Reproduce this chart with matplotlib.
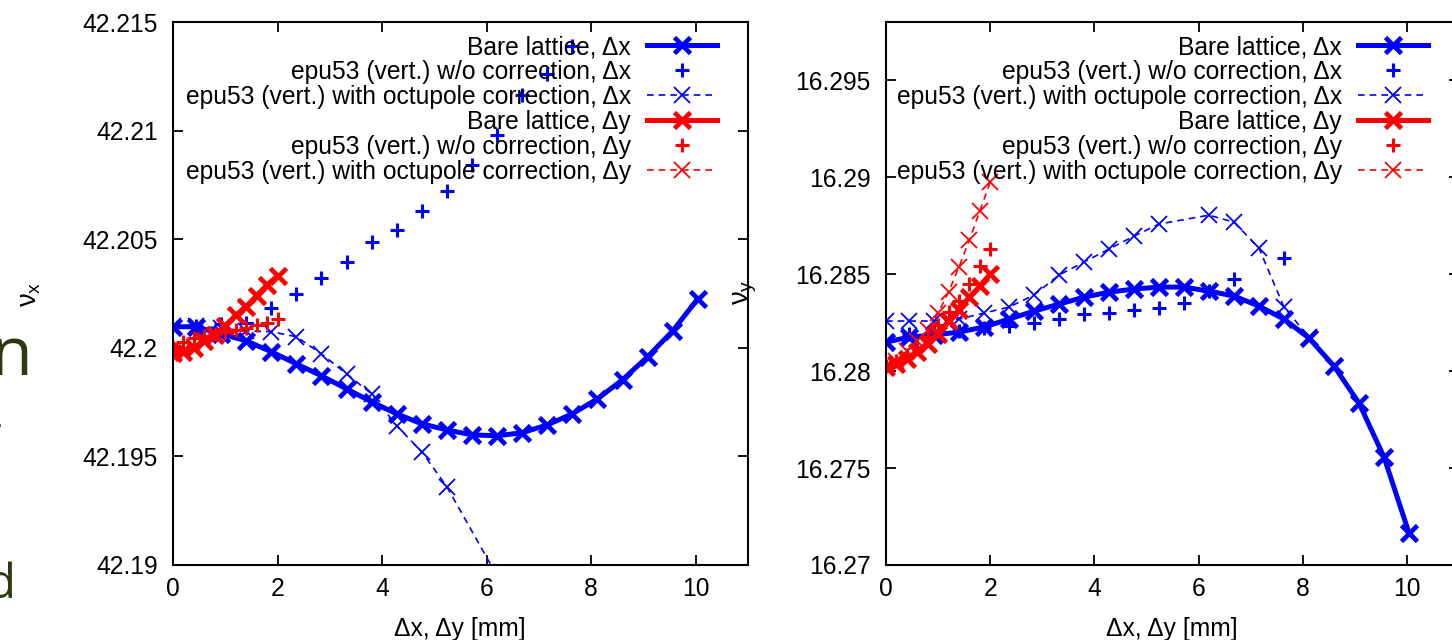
"""
Tune shift vs. amplitude: bare lattice vs. epu53 with/without octupole correction.
"""

import matplotlib
matplotlib.use('Agg')
import matplotlib.pyplot as plt
from matplotlib.ticker import FixedLocator, FormatStrFormatter

plt.rcParams['font.family'] = ['Liberation Sans', 'DejaVu Sans']
plt.rcParams['mathtext.fontset'] = 'custom'
plt.rcParams['mathtext.rm'] = 'Liberation Sans'
plt.rcParams['mathtext.it'] = 'Liberation Sans'

BLUE = '#0000ff'
RED = '#ff0000'
SLIDE = '#2b3a10'

# amplitudes [mm]
amp_x = [0.0, 0.44, 0.92, 1.40, 1.88, 2.36, 2.84, 3.32, 3.80, 4.28, 4.76,
         5.24, 5.72, 6.20, 6.68, 7.16, 7.64, 8.12, 8.60, 9.08, 9.56, 10.04]
amp_y = [0.0, 0.2, 0.4, 0.6, 0.8, 1.0, 1.2, 1.4, 1.6, 1.8, 2.0]

# ---- nu_x (left panel) ----
nux_bare_dx = [42.20097, 42.20097, 42.20064, 42.20032, 42.19982, 42.19926,
               42.19871, 42.19811, 42.19751, 42.19696, 42.19650, 42.19622,
               42.19599, 42.19595, 42.19609, 42.19645, 42.19696, 42.19765,
               42.19853, 42.19959, 42.20078, 42.20226]
nux_nocorr_dx_amp = [0.44, 0.92, 1.40, 1.88, 2.36, 2.84, 3.32, 3.80, 4.28,
                     4.76, 5.24, 5.72, 6.20, 6.68, 7.16, 7.64]
nux_nocorr_dx = [42.20100, 42.20108, 42.20115, 42.20184, 42.20249, 42.20322,
                 42.20396, 42.20488, 42.20543, 42.20631, 42.20723, 42.20843,
                 42.20981, 42.21165, 42.21262, 42.21390]
nux_oct_dx_amp = [0.0, 0.44, 0.92, 1.40, 1.88, 2.36, 2.84, 3.32, 3.80, 4.28,
                  4.76, 5.24, 6.20]
nux_oct_dx = [42.20100, 42.20100, 42.20090, 42.20078, 42.20074, 42.20051,
              42.19972, 42.19880, 42.19788, 42.19641, 42.19521, 42.19360,
              42.18950]
nux_bare_dy = [42.19975, 42.19980, 42.20000, 42.20030, 42.20060, 42.20100,
               42.20150, 42.20190, 42.20240, 42.20290, 42.20330]
nux_nocorr_dy = [42.20000, 42.20028, 42.20046, 42.20055, 42.20064, 42.20074,
                 42.20083, 42.20092, 42.20106, 42.20115, 42.20134]
nux_oct_dy = [42.19978, 42.19983, 42.20002, 42.20028, 42.20057, 42.20097,
              42.20146, 42.20187, 42.20236, 42.20286, 42.20327]

# ---- nu_y (right panel) ----
nuy_bare_dx = [16.28149, 16.28175, 16.28186, 16.28201, 16.28227, 16.28268,
               16.28309, 16.28345, 16.28381, 16.28407, 16.28423, 16.28433,
               16.28433, 16.28412, 16.28387, 16.28335, 16.28268, 16.28170,
               16.28026, 16.27835, 16.27557, 16.27165]
nuy_nocorr_dx_amp = [0.44, 0.92, 1.40, 1.88, 2.36, 2.84, 3.32, 3.80, 4.28,
                     4.76, 5.24, 5.72, 6.20, 6.68, 7.64]
nuy_nocorr_dx = [16.28191, 16.28196, 16.28206, 16.28222, 16.28232, 16.28247,
                 16.28268, 16.28294, 16.28299, 16.28314, 16.28325, 16.28351,
                 16.28412, 16.28474, 16.28582]
nuy_oct_dx_amp = [0.0, 0.44, 0.92, 1.40, 1.88, 2.36, 2.84, 3.32, 3.80, 4.28,
                  4.76, 5.24, 6.20, 6.68, 7.16, 7.64, 8.12]
nuy_oct_dx = [16.28258, 16.28258, 16.28258, 16.28268, 16.28299, 16.28330,
              16.28392, 16.28495, 16.28562, 16.28629, 16.28696, 16.28758,
              16.28804, 16.28768, 16.28634, 16.28330, 16.28175]
nuy_bare_dy = [16.28021, 16.28036, 16.28062, 16.28098, 16.28139, 16.28191,
               16.28258, 16.28314, 16.28381, 16.28438, 16.28500]
nuy_nocorr_dy = [16.28026, 16.28052, 16.28082, 16.28124, 16.28175, 16.28237,
                 16.28304, 16.28361, 16.28448, 16.28541, 16.28629]
nuy_oct_dy = [16.28021, 16.28052, 16.28103, 16.28155, 16.28211, 16.28299,
              16.28407, 16.28536, 16.28675, 16.28825, 16.28974]

labels = ['Bare lattice, Δx',
          'epu53 (vert.) w/o correction, Δx',
          'epu53 (vert.) with octupole correction, Δx',
          'Bare lattice, Δy',
          'epu53 (vert.) w/o correction, Δy',
          'epu53 (vert.) with octupole correction, Δy']

x_ticks = [0, 2, 4, 6, 8, 10]
left_yticks = [42.19, 42.195, 42.2, 42.205, 42.21, 42.215]
right_yticks = [16.27, 16.275, 16.28, 16.285, 16.29, 16.295]

FS = 17.7
W, H = 1452, 640


def draw_panel(ax, series, yticks, ylim):
    """Six curves in gnuplot style: bare / no correction / octupole, for dx and dy."""
    (bx, by), (px, py), (ox, oy), (rbx, rby), (rpx, rpy), (rox, roy) = series
    ax.plot(bx, by, color=BLUE, lw=3.6, marker='x', ms=11, mew=3.4,
            label=labels[0])
    ax.plot(px, py, color=BLUE, ls='none', marker='+', ms=10, mew=2.2,
            label=labels[1])
    ax.plot(ox, oy, color=BLUE, lw=1.2, ls=(0, (4, 3)), marker='x', ms=11,
            mew=1.3, label=labels[2])
    ax.plot(rbx, rby, color=RED, lw=3.6, marker='x', ms=11, mew=3.4,
            label=labels[3])
    ax.plot(rpx, rpy, color=RED, ls='none', marker='+', ms=10, mew=2.2,
            label=labels[4])
    ax.plot(rox, roy, color=RED, lw=1.2, ls=(0, (4, 3)), marker='x', ms=11,
            mew=1.3, label=labels[5])

    ax.set_xlim(0, 11)
    ax.set_ylim(*ylim)
    ax.xaxis.set_major_locator(FixedLocator(x_ticks))
    ax.yaxis.set_major_locator(FixedLocator(yticks))
    ax.yaxis.set_major_formatter(FormatStrFormatter('%g'))
    ax.tick_params(direction='in', length=7, width=1.3, labelsize=FS,
                   top=True, right=True, pad=9)
    ax.tick_params(axis='y', pad=11)
    for s in ax.spines.values():
        s.set_linewidth(1.5)

    ax.legend(loc='upper right', bbox_to_anchor=(0.946, 0.976),
              markerfirst=False, frameon=False, fontsize=FS, numpoints=1,
              handlelength=2.85, handletextpad=0.65, labelspacing=0.04,
              borderaxespad=0, borderpad=0)


fig = plt.figure(figsize=(W / 100, H / 100), dpi=100)

ax1 = fig.add_axes([173 / W, 1 - 565 / H, 575 / W, 543 / H])
draw_panel(ax1, [(amp_x, nux_bare_dx), (nux_nocorr_dx_amp, nux_nocorr_dx),
                 (nux_oct_dx_amp, nux_oct_dx), (amp_y, nux_bare_dy),
                 (amp_y, nux_nocorr_dy), (amp_y, nux_oct_dy)],
           left_yticks, (42.19, 42.215))

ax2 = fig.add_axes([886 / W, 1 - 565 / H, 573 / W, 543 / H])
draw_panel(ax2, [(amp_x, nuy_bare_dx), (nuy_nocorr_dx_amp, nuy_nocorr_dx),
                 (nuy_oct_dx_amp, nuy_oct_dx), (amp_y, nuy_bare_dy),
                 (amp_y, nuy_nocorr_dy), (amp_y, nuy_oct_dy)],
           right_yticks, (16.27, 16.298))

# axis titles
fig.text(30 / W, 1 - 294 / H, r'$\nu_x$', rotation=90, fontsize=FS + 2,
         ha='center', va='center')
fig.text(745 / W, 1 - 292 / H, r'$\nu_y$', rotation=90, fontsize=FS + 2,
         ha='center', va='center')
fig.text(460 / W, 1 - 629 / H, 'Δx, Δy [mm]', fontsize=FS,
         ha='center', va='center')
fig.text(1172 / W, 1 - 629 / H, 'Δx, Δy [mm]', fontsize=FS,
         ha='center', va='center')

# leftover slide text at the left edge
fig.text(33 / W, 1 - 375 / H, 'en', fontsize=49, color=SLIDE,
         ha='right', va='baseline', family=['Open Sans', 'DejaVu Sans'])
fig.text(4 / W, 1 - 428 / H, '.', fontsize=30, color=SLIDE,
         ha='right', va='baseline', family=['Open Sans', 'DejaVu Sans'])
fig.text(15 / W, 1 - 598 / H, 'd', fontsize=34, color=SLIDE,
         ha='right', va='baseline', family=['Open Sans', 'DejaVu Sans'])

fig.savefig('out.png', dpi=100)
